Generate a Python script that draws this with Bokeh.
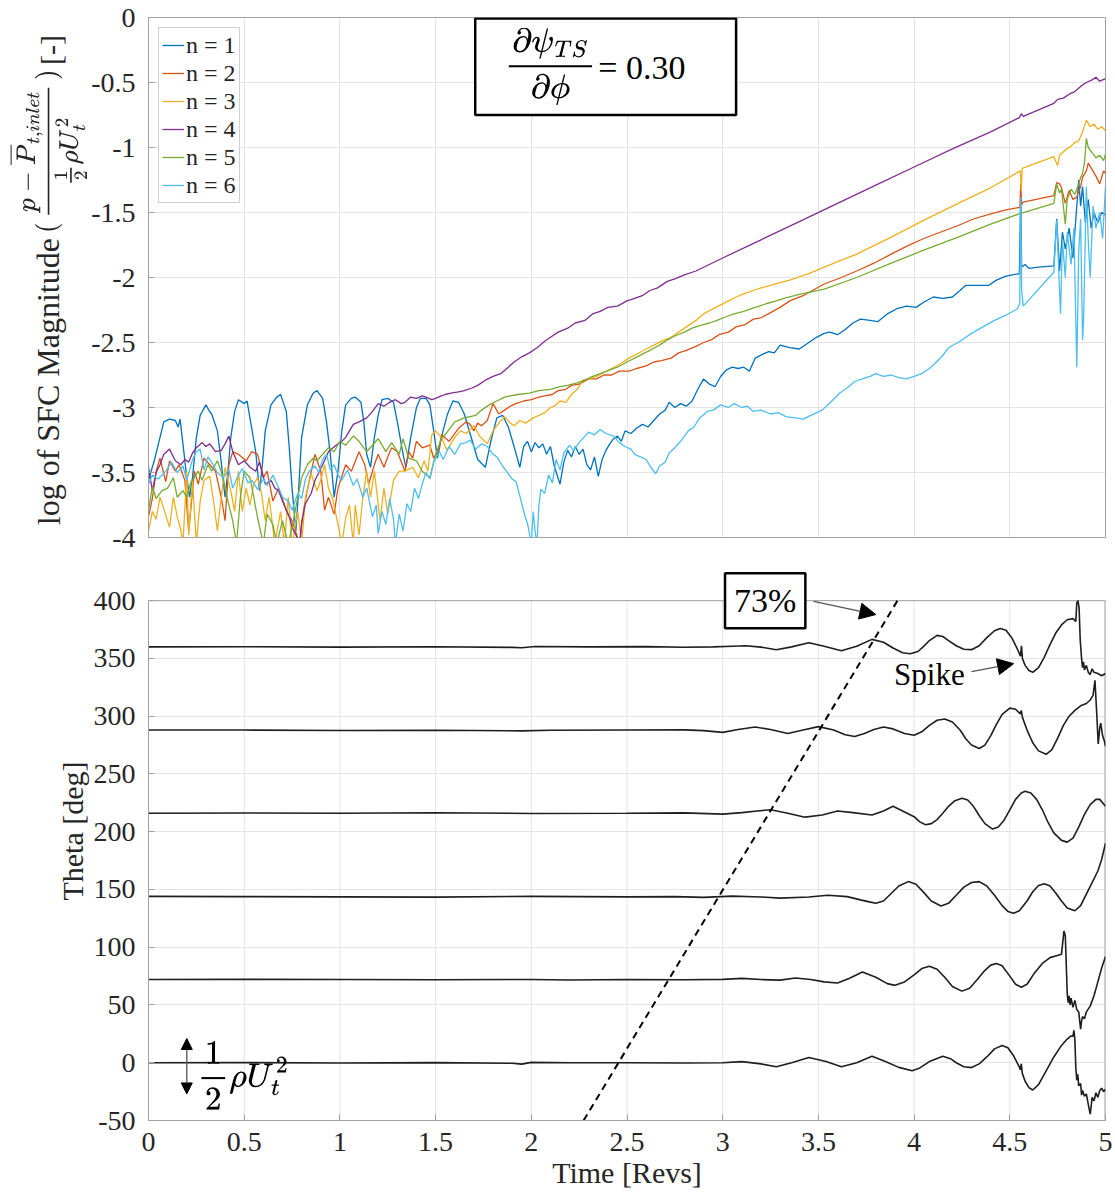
from bokeh.plotting import figure
from bokeh.models import Range1d, SingleIntervalTicker, Label, Arrow, NormalHead, BoxAnnotation
from bokeh.layouts import column, row
from bokeh.embed import file_html
from bokeh.resources import INLINE

SERIF = "Liberation Serif"
GRAY = "#a0a0a0"
GRID = "#e4e4e4"
TXT = "#262626"

# ---------------- top panel data: (time [revs], log SFC magnitude) ----------------
n1_pts = [(0.00,-3.56),(0.03,-3.41),(0.06,-3.23),(0.08,-3.11),(0.11,-3.09),(0.14,-3.10),(0.155,-3.15),(0.165,-3.09),
 (0.18,-3.28),(0.20,-3.54),(0.215,-3.69),(0.23,-3.54),(0.25,-3.23),(0.27,-3.06),(0.30,-2.98),(0.315,-3.02),(0.33,-3.05),
 (0.36,-3.18),(0.38,-3.42),(0.40,-3.69),(0.415,-3.49),(0.43,-3.23),(0.45,-3.03),(0.47,-2.94),(0.50,-2.97),(0.515,-2.95),
 (0.53,-3.08),(0.56,-3.34),(0.58,-3.64),(0.595,-3.44),(0.61,-3.18),(0.64,-2.98),(0.67,-2.92),(0.69,-2.90),(0.72,-3.03),
 (0.735,-3.30),(0.75,-3.62),(0.77,-3.95),(0.785,-3.62),(0.80,-3.23),(0.83,-2.98),(0.86,-2.89),(0.88,-2.87),(0.91,-2.93),
 (0.93,-3.11),(0.95,-3.36),(0.97,-3.69),(0.99,-3.49),(1.01,-3.18),(1.03,-2.98),(1.06,-2.93),(1.08,-2.92),(1.11,-2.96),
 (1.125,-3.11),(1.14,-3.36),(1.16,-3.46),(1.18,-3.23),(1.20,-3.06),(1.22,-2.94),(1.25,-2.93),(1.28,-2.96),(1.30,-3.11),
 (1.33,-3.36),(1.345,-3.46),(1.37,-3.23),(1.40,-3.00),(1.42,-2.93),(1.45,-2.93),(1.47,-2.98),(1.49,-3.18),(1.51,-3.39),
 (1.53,-3.23),(1.56,-3.06),(1.59,-2.95),(1.62,-2.96),(1.65,-3.05),(1.68,-3.20),(1.72,-3.40),(1.76,-3.46),(1.79,-3.25),
 (1.82,-3.08),(1.85,-3.06),(1.88,-3.15),(1.91,-3.30),(1.94,-3.46),(1.96,-3.30),(1.98,-3.26),(2.00,-3.34),(2.02,-3.27),
 (2.04,-3.31),(2.06,-3.28),(2.08,-3.36),(2.10,-3.30),(2.12,-3.45),(2.15,-3.59),(2.17,-3.42),(2.19,-3.33),(2.21,-3.38),
 (2.23,-3.30),(2.25,-3.36),(2.27,-3.32),(2.29,-3.44),(2.31,-3.48),(2.33,-3.38),(2.35,-3.53),(2.37,-3.40),(2.39,-3.33),
 (2.41,-3.28),(2.43,-3.24),(2.45,-3.22),(2.47,-3.26),(2.49,-3.18),(2.52,-3.20),(2.55,-3.16),(2.58,-3.13),(2.61,-3.15),
 (2.64,-3.10),(2.67,-3.05),(2.70,-3.02),(2.72,-2.96),(2.75,-3.00),(2.78,-2.97),(2.81,-2.99),(2.84,-2.95),(2.87,-2.86),
 (2.90,-2.78),(2.93,-2.82),(2.96,-2.84),(2.99,-2.76),(3.02,-2.71),(3.05,-2.69),(3.08,-2.70),(3.11,-2.69),(3.14,-2.72),
 (3.17,-2.62),(3.21,-2.59),(3.24,-2.57),(3.27,-2.58),(3.30,-2.52),(3.35,-2.54),(3.40,-2.55),(3.45,-2.50),(3.49,-2.46),
 (3.53,-2.43),(3.56,-2.42),(3.60,-2.44),(3.64,-2.40),(3.68,-2.35),(3.72,-2.32),(3.77,-2.33),(3.81,-2.34),(3.86,-2.28),
 (3.91,-2.24),(3.96,-2.22),(4.01,-2.23),(4.05,-2.19),(4.10,-2.15),(4.15,-2.16),(4.20,-2.15),(4.24,-2.10),(4.27,-2.06),
 (4.32,-2.06),(4.39,-2.06),(4.43,-2.02),(4.48,-1.99),(4.55,-1.97),(4.557,-1.35),(4.562,-1.92),(4.58,-1.90),(4.60,-1.93),
 (4.65,-1.92),(4.73,-1.91),(4.745,-1.55),(4.76,-1.95),(4.775,-1.65),(4.79,-1.78),(4.81,-1.62),(4.83,-1.85),(4.845,-1.55),
 (4.86,-1.25),(4.87,-1.45),(4.88,-1.30),(4.895,-1.58),(4.91,-1.40),(4.925,-1.62),(4.94,-1.50),(4.96,-1.58),(4.98,-1.50),(5.00,-1.52)]

n2_pts = [(0.00,-3.84),(0.02,-3.70),(0.04,-3.49),(0.06,-3.39),(0.09,-3.57),(0.11,-3.41),(0.14,-3.49),(0.16,-3.44),
 (0.19,-3.56),(0.21,-3.95),(0.24,-3.49),(0.26,-3.59),(0.29,-3.39),(0.32,-3.44),(0.35,-3.49),(0.38,-3.69),(0.40,-3.87),
 (0.42,-3.44),(0.44,-3.34),(0.47,-3.36),(0.51,-3.41),(0.54,-3.34),(0.57,-3.36),(0.60,-3.54),(0.62,-3.49),(0.65,-3.72),
 (0.68,-3.62),(0.72,-3.79),(0.75,-3.87),(0.79,-4.05),(0.81,-3.79),(0.84,-3.56),(0.87,-3.36),(0.90,-3.49),(0.92,-3.79),
 (0.94,-3.69),(0.97,-3.82),(0.99,-3.62),(1.03,-3.44),(1.06,-3.49),(1.10,-3.34),(1.13,-3.44),(1.15,-3.59),(1.18,-3.44),
 (1.20,-3.36),(1.23,-3.46),(1.25,-3.38),(1.27,-3.31),(1.30,-3.34),(1.34,-3.49),(1.36,-3.34),(1.38,-3.39),(1.40,-3.26),
 (1.43,-3.31),(1.47,-3.29),(1.49,-3.39),(1.52,-3.31),(1.53,-3.21),(1.57,-3.26),(1.62,-3.16),(1.66,-3.11),(1.68,-3.13),
 (1.70,-3.18),(1.72,-3.12),(1.74,-3.14),(1.77,-3.10),(1.80,-2.97),(1.83,-3.05),(1.86,-3.02),(1.89,-2.99),(1.92,-2.97),
 (1.96,-2.95),(2.00,-2.94),(2.04,-2.92),(2.07,-2.91),(2.11,-2.90),(2.14,-2.87),(2.18,-2.86),(2.21,-2.83),(2.25,-2.82),
 (2.30,-2.78),(2.34,-2.78),(2.38,-2.75),(2.42,-2.75),(2.46,-2.72),(2.51,-2.72),(2.55,-2.70),(2.60,-2.68),(2.64,-2.65),
 (2.68,-2.64),(2.73,-2.62),(2.77,-2.58),(2.81,-2.56),(2.86,-2.53),(2.90,-2.50),(2.94,-2.48),(2.98,-2.44),(3.03,-2.42),
 (3.07,-2.38),(3.12,-2.36),(3.16,-2.32),(3.20,-2.31),(3.25,-2.27),(3.30,-2.23),(3.35,-2.18),(3.42,-2.14),(3.53,-2.05),
 (3.62,-2.00),(3.70,-1.95),(3.79,-1.89),(3.88,-1.82),(3.96,-1.76),(4.05,-1.70),(4.14,-1.65),(4.23,-1.60),(4.31,-1.55),
 (4.40,-1.51),(4.48,-1.48),(4.553,-1.46),(4.557,-1.28),(4.562,-1.44),(4.57,-1.42),(4.73,-1.37),(4.745,-1.27),(4.76,-1.28),
 (4.77,-1.31),(4.79,-1.43),(4.81,-1.33),(4.83,-1.40),(4.85,-1.38),(4.87,-1.30),(4.88,-1.23),(4.90,-1.18),(4.91,-1.12),
 (4.93,-1.17),(4.95,-1.22),(4.97,-1.28),(4.99,-1.18),(5.00,-1.20)]

n3_pts = [(0.00,-3.95),(0.02,-3.80),(0.04,-3.86),(0.06,-3.69),(0.08,-3.78),(0.11,-3.92),(0.13,-3.69),(0.15,-3.84),
 (0.17,-3.95),(0.18,-4.05),(0.20,-3.49),(0.21,-3.98),(0.23,-3.56),(0.25,-4.05),(0.27,-3.72),(0.29,-3.56),(0.32,-3.53),
 (0.34,-3.72),(0.36,-3.95),(0.38,-3.69),(0.40,-3.46),(0.43,-3.64),(0.45,-3.80),(0.47,-3.49),(0.49,-3.80),(0.51,-3.62),
 (0.53,-3.75),(0.55,-3.59),(0.57,-3.54),(0.59,-3.66),(0.61,-3.87),(0.63,-3.69),(0.66,-4.05),(0.69,-3.80),(0.71,-4.05),
 (0.73,-3.69),(0.75,-4.05),(0.78,-3.80),(0.80,-4.05),(0.82,-3.69),(0.85,-3.51),(0.88,-3.64),(0.90,-3.56),(0.92,-3.44),
 (0.94,-3.62),(0.96,-3.69),(0.99,-3.90),(1.01,-4.05),(1.03,-3.85),(1.05,-3.75),(1.07,-4.05),(1.08,-3.75),(1.10,-3.98),
 (1.12,-3.69),(1.14,-3.49),(1.16,-3.69),(1.18,-3.49),(1.21,-3.87),(1.23,-3.62),(1.25,-3.82),(1.28,-3.56),(1.31,-3.49),
 (1.34,-3.49),(1.38,-3.46),(1.41,-3.54),(1.44,-3.41),(1.46,-3.49),(1.48,-3.21),(1.50,-3.18),(1.53,-3.23),(1.56,-3.33),
 (1.60,-3.23),(1.63,-3.18),(1.66,-3.20),(1.70,-3.14),(1.73,-3.22),(1.77,-3.28),(1.80,-3.18),(1.83,-3.12),(1.86,-3.07),
 (1.89,-3.12),(1.91,-3.14),(1.94,-3.10),(1.97,-3.12),(2.01,-3.08),(2.04,-3.06),(2.07,-3.04),(2.10,-3.00),(2.12,-2.99),
 (2.15,-2.95),(2.18,-2.96),(2.21,-2.90),(2.24,-2.86),(2.27,-2.79),(2.30,-2.78),(2.34,-2.76),(2.38,-2.73),(2.42,-2.70),
 (2.47,-2.66),(2.51,-2.62),(2.55,-2.59),(2.60,-2.55),(2.64,-2.52),(2.68,-2.49),(2.73,-2.46),(2.77,-2.42),(2.81,-2.38),
 (2.86,-2.33),(2.90,-2.28),(2.95,-2.24),(2.99,-2.21),(3.03,-2.18),(3.07,-2.15),(3.12,-2.12),(3.16,-2.10),(3.20,-2.08),
 (3.25,-2.06),(3.30,-2.04),(3.35,-2.02),(3.45,-1.97),(3.53,-1.92),(3.70,-1.82),(3.88,-1.69),(4.05,-1.56),(4.23,-1.43),
 (4.40,-1.31),(4.555,-1.18),(4.56,-1.33),(4.565,-1.16),(4.73,-1.07),(4.75,-1.14),(4.76,-1.06),(4.79,-1.02),(4.82,-0.99),
 (4.84,-0.96),(4.86,-0.95),(4.88,-0.88),(4.90,-0.79),(4.92,-0.84),(4.94,-0.82),(4.96,-0.86),(4.98,-0.84),(5.00,-0.87)]

n4_pts = [(0.00,-3.46),(0.02,-3.64),(0.04,-3.50),(0.06,-3.44),(0.08,-3.36),(0.11,-3.32),(0.14,-3.41),(0.17,-3.44),
 (0.19,-3.40),(0.21,-3.42),(0.23,-3.35),(0.25,-3.31),(0.28,-3.27),(0.30,-3.30),(0.32,-3.28),(0.35,-3.34),(0.38,-3.33),
 (0.40,-3.28),(0.42,-3.22),(0.44,-3.34),(0.47,-3.44),(0.50,-3.41),(0.53,-3.46),(0.56,-3.49),(0.58,-3.42),(0.61,-3.59),
 (0.64,-3.56),(0.66,-3.62),(0.68,-3.64),(0.70,-3.72),(0.72,-3.79),(0.74,-3.86),(0.75,-3.92),(0.77,-3.98),(0.79,-4.05),
 (0.80,-3.88),(0.82,-3.74),(0.85,-3.66),(0.87,-3.56),(0.89,-3.50),(0.91,-3.44),(0.94,-3.34),(0.98,-3.29),(1.01,-3.26),
 (1.03,-3.23),(1.05,-3.18),(1.07,-3.13),(1.10,-3.11),(1.14,-3.08),(1.17,-3.03),(1.20,-2.97),(1.23,-2.99),(1.26,-2.96),
 (1.29,-2.94),(1.32,-2.97),(1.34,-2.96),(1.37,-2.92),(1.40,-2.93),(1.43,-2.91),(1.45,-2.92),(1.48,-2.94),(1.50,-2.93),
 (1.53,-2.91),(1.55,-2.90),(1.58,-2.89),(1.62,-2.88),(1.65,-2.87),(1.69,-2.85),(1.72,-2.83),(1.76,-2.79),(1.80,-2.76),
 (1.84,-2.74),(1.88,-2.69),(1.91,-2.65),(1.95,-2.61),(1.99,-2.58),(2.03,-2.54),(2.07,-2.49),(2.10,-2.46),(2.14,-2.42),
 (2.19,-2.39),(2.23,-2.35),(2.28,-2.33),(2.32,-2.28),(2.36,-2.26),(2.40,-2.23),(2.45,-2.22),(2.50,-2.18),(2.54,-2.16),
 (2.58,-2.14),(2.62,-2.10),(2.66,-2.08),(2.71,-2.03),(2.75,-2.01),(2.80,-1.98),(2.86,-1.95),(3.00,-1.85),(3.20,-1.71),
 (3.40,-1.57),(3.60,-1.43),(3.80,-1.29),(4.00,-1.15),(4.20,-1.01),(4.40,-0.88),(4.55,-0.77),(4.56,-0.74),(4.57,-0.76),
 (4.73,-0.66),(4.75,-0.63),(4.78,-0.62),(4.81,-0.59),(4.84,-0.57),(4.87,-0.53),(4.90,-0.50),(4.93,-0.48),(4.95,-0.46),
 (4.97,-0.49),(5.00,-0.47)]

n5_pts = [(0.00,-3.79),(0.02,-3.61),(0.04,-3.70),(0.07,-3.64),(0.10,-3.62),(0.13,-3.54),(0.15,-3.69),(0.18,-3.64),
 (0.20,-3.69),(0.22,-3.58),(0.26,-3.49),(0.28,-3.56),(0.31,-3.44),(0.33,-3.49),(0.36,-3.41),(0.39,-3.54),(0.41,-3.69),
 (0.44,-3.87),(0.46,-4.05),(0.48,-3.69),(0.50,-3.49),(0.53,-3.54),(0.55,-3.69),(0.57,-3.85),(0.60,-4.05),(0.62,-3.82),
 (0.65,-3.90),(0.67,-4.05),(0.70,-3.87),(0.73,-4.05),(0.75,-3.92),(0.78,-3.69),(0.80,-3.54),(0.83,-3.44),(0.86,-3.39),
 (0.88,-3.41),(0.91,-3.36),(0.94,-3.31),(0.97,-3.34),(1.00,-3.26),(1.03,-3.29),(1.07,-3.22),(1.10,-3.26),(1.14,-3.34),
 (1.17,-3.29),(1.20,-3.24),(1.24,-3.34),(1.27,-3.27),(1.31,-3.36),(1.33,-3.24),(1.36,-3.39),(1.40,-3.41),(1.43,-3.49),
 (1.47,-3.54),(1.50,-3.36),(1.53,-3.24),(1.56,-3.19),(1.60,-3.11),(1.65,-3.08),(1.71,-3.06),(1.74,-3.02),(1.78,-2.98),
 (1.82,-2.95),(1.86,-2.92),(1.89,-2.91),(1.93,-2.90),(1.99,-2.89),(2.04,-2.87),(2.10,-2.86),(2.15,-2.84),(2.19,-2.83),
 (2.24,-2.81),(2.28,-2.79),(2.32,-2.76),(2.36,-2.74),(2.41,-2.71),(2.45,-2.69),(2.50,-2.65),(2.54,-2.62),(2.58,-2.59),
 (2.62,-2.56),(2.67,-2.52),(2.71,-2.48),(2.75,-2.45),(2.80,-2.42),(2.84,-2.39),(2.88,-2.37),(2.93,-2.35),(2.97,-2.33),
 (3.02,-2.30),(3.06,-2.28),(3.11,-2.26),(3.15,-2.24),(3.19,-2.22),(3.23,-2.20),(3.28,-2.18),(3.32,-2.16),(3.40,-2.13),
 (3.53,-2.09),(3.70,-2.00),(3.88,-1.89),(4.05,-1.79),(4.23,-1.69),(4.40,-1.59),(4.55,-1.51),(4.73,-1.43),(4.745,-1.28),
 (4.76,-1.35),(4.77,-1.32),(4.79,-1.59),(4.80,-1.40),(4.82,-1.32),(4.84,-1.36),(4.86,-1.28),(4.87,-1.23),(4.88,-1.20),
 (4.89,-1.12),(4.90,-0.93),(4.91,-1.00),(4.93,-1.04),(4.95,-1.08),(4.97,-1.06),(4.99,-1.10),(5.00,-1.05)]

n6_pts = [(0.00,-3.59),(0.02,-3.52),(0.05,-3.55),(0.09,-3.49),(0.12,-3.42),(0.15,-3.50),(0.18,-3.45),(0.20,-3.56),
 (0.23,-3.40),(0.25,-3.34),(0.27,-3.32),(0.29,-3.48),(0.31,-3.38),(0.33,-3.42),(0.36,-3.50),(0.39,-3.54),(0.42,-3.48),
 (0.44,-3.62),(0.47,-3.52),(0.49,-3.47),(0.52,-3.58),(0.54,-3.56),(0.57,-3.63),(0.60,-3.55),(0.62,-3.60),(0.65,-3.52),
 (0.68,-3.62),(0.70,-3.69),(0.73,-3.72),(0.75,-3.79),(0.78,-3.66),(0.80,-3.70),(0.82,-3.55),(0.84,-3.49),(0.87,-3.45),
 (0.89,-3.50),(0.91,-3.40),(0.93,-3.36),(0.95,-3.48),(0.97,-3.44),(0.99,-3.52),(1.01,-3.56),(1.04,-3.48),(1.07,-3.60),
 (1.09,-3.55),(1.12,-3.69),(1.14,-3.62),(1.17,-3.84),(1.19,-3.75),(1.20,-3.97),(1.22,-3.80),(1.24,-3.90),(1.26,-3.70),
 (1.28,-3.86),(1.29,-4.05),(1.31,-3.82),(1.33,-3.95),(1.35,-3.74),(1.37,-3.80),(1.39,-3.62),(1.41,-3.70),(1.43,-3.59),
 (1.45,-3.50),(1.47,-3.55),(1.49,-3.42),(1.52,-3.34),(1.54,-3.40),(1.57,-3.30),(1.60,-3.36),(1.63,-3.28),(1.66,-3.27),
 (1.68,-3.25),(1.71,-3.32),(1.74,-3.28),(1.77,-3.30),(1.80,-3.36),(1.82,-3.38),(1.85,-3.45),(1.87,-3.49),(1.90,-3.55),
 (1.92,-3.57),(1.94,-3.68),(1.95,-3.74),(1.97,-3.85),(1.98,-3.89),(2.00,-4.05),(2.01,-3.80),(2.02,-3.95),(2.03,-4.05),
 (2.04,-3.75),(2.05,-3.63),(2.07,-3.66),(2.09,-3.52),(2.11,-3.58),(2.13,-3.40),(2.15,-3.48),(2.17,-3.35),(2.20,-3.29),
 (2.22,-3.33),(2.25,-3.27),(2.28,-3.22),(2.30,-3.19),(2.33,-3.21),(2.36,-3.17),(2.39,-3.20),(2.43,-3.22),(2.46,-3.27),
 (2.49,-3.30),(2.52,-3.32),(2.54,-3.36),(2.57,-3.38),(2.60,-3.40),(2.62,-3.45),(2.65,-3.51),(2.67,-3.45),(2.70,-3.42),
 (2.72,-3.35),(2.75,-3.31),(2.78,-3.26),(2.82,-3.18),(2.85,-3.15),(2.88,-3.08),(2.92,-3.03),(2.95,-3.02),(2.99,-2.98),
 (3.03,-3.00),(3.06,-2.97),(3.10,-3.00),(3.13,-2.99),(3.16,-3.03),(3.20,-3.02),(3.25,-3.05),(3.29,-3.04),(3.33,-3.07),
 (3.38,-3.08),(3.42,-3.09),(3.46,-3.06),(3.52,-3.02),(3.57,-2.95),(3.61,-2.89),(3.65,-2.85),(3.69,-2.80),(3.73,-2.78),
 (3.77,-2.76),(3.80,-2.74),(3.84,-2.76),(3.88,-2.75),(3.92,-2.77),(3.96,-2.78),(4.00,-2.76),(4.04,-2.74),(4.08,-2.70),
 (4.11,-2.66),(4.15,-2.60),(4.18,-2.54),(4.24,-2.49),(4.30,-2.43),(4.36,-2.38),(4.42,-2.33),(4.48,-2.29),(4.54,-2.24),
 (4.552,-2.20),(4.557,-1.38),(4.562,-2.10),(4.57,-2.22),(4.73,-1.96),(4.745,-1.56),(4.765,-2.28),(4.775,-1.72),(4.79,-2.00),
 (4.80,-1.65),(4.82,-1.90),(4.835,-1.62),(4.85,-2.69),(4.86,-1.80),(4.87,-1.55),(4.88,-2.48),(4.885,-2.35),(4.90,-1.30),
 (4.91,-1.72),(4.92,-2.00),(4.935,-1.45),(4.95,-1.62),(4.97,-1.50),(4.985,-1.70),(5.00,-1.30)]

series_names = ["n = 1", "n = 2", "n = 3", "n = 4", "n = 5", "n = 6"]
series_colors = ["#0072BD", "#D95319", "#EDB120", "#7E2F8E", "#77AC30", "#4DBEEE"]
series_pts = [n1_pts, n2_pts, n3_pts, n4_pts, n5_pts, n6_pts]

# ---------------- bottom panel data: (time [revs], theta [deg]) ----------------
th360 = [(0,360),(0.5,360.1),(1.0,359.8),(1.5,360.1),(1.9,359.6),(1.95,359.2),(2.02,360.3),(2.3,360),(2.6,360.2),
 (2.8,359.7),(2.95,360),(3.05,360.6),(3.12,361),(3.20,359.8),(3.28,357.6),(3.36,360),(3.45,363.6),(3.53,360.5),
 (3.62,356.6),(3.70,360.5),(3.78,366.5),(3.84,364),(3.89,359),(3.94,355),(3.98,354),(4.02,356),(4.05,360.5),(4.08,365.5),
 (4.12,370),(4.15,369),(4.18,365.5),(4.22,361),(4.26,358),(4.30,357.6),(4.34,361),(4.38,368),(4.42,374),(4.45,376),
 (4.48,374.5),(4.51,368),(4.54,358),(4.556,352),(4.561,361),(4.566,350),(4.58,344),(4.60,339.5),(4.62,338),(4.65,342),
 (4.68,351),(4.71,362),(4.74,372),(4.77,379),(4.80,383.5),(4.83,384.5),(4.845,382),(4.85,398),(4.856,400),(4.862,394),
 (4.868,366),(4.875,350),(4.88,342),(4.885,347),(4.89,340),(4.90,344),(4.91,338),(4.92,336),(4.93,341),(4.94,338),
 (4.96,337),(4.98,335),(5.0,337)]
th288 = [(0,288),(0.5,288),(1.0,287.6),(1.5,287.8),(1.95,287.3),(2.1,287.8),(2.5,288),(2.8,288.2),(2.9,287.5),(3.0,286),
 (3.08,288.5),(3.17,290.6),(3.25,288.5),(3.34,285),(3.42,288),(3.50,291),(3.58,288),(3.64,284),(3.69,282.5),(3.74,285),
 (3.79,288.5),(3.84,290.6),(3.89,289),(3.95,285),(4.00,283.5),(4.04,286.5),(4.08,292),(4.12,296.5),(4.16,297.6),(4.20,295),
 (4.24,288),(4.27,280.5),(4.30,275),(4.34,272),(4.37,275),(4.40,283),(4.43,293),(4.46,301.5),(4.50,307),(4.53,306),
 (4.555,302),(4.56,305),(4.566,299),(4.59,288),(4.62,277),(4.65,270),(4.69,267),(4.72,271),(4.75,281),(4.78,292),
 (4.81,300),(4.84,305),(4.87,309),(4.90,311),(4.92,314),(4.935,318),(4.945,331),(4.955,300),(4.962,276),(4.97,290),
 (4.975,294),(4.985,283),(4.995,278),(5.0,274)]
th216 = [(0,216),(0.5,216.2),(1.0,216),(1.5,216.4),(2.0,215.8),(2.5,216),(2.8,216.3),(3.0,215.2),(3.1,216.5),(3.18,218),
 (3.25,219),(3.34,216),(3.43,212.6),(3.52,214.5),(3.60,218),(3.68,216.5),(3.78,214.5),(3.84,218),(3.89,222),(3.94,218),
 (4.00,213),(4.03,208.5),(4.06,206),(4.09,207),(4.12,210.5),(4.15,216),(4.18,222),(4.21,226.5),(4.25,229),(4.28,227.5),
 (4.31,222),(4.34,214),(4.37,207),(4.41,202.3),(4.44,204),(4.47,210),(4.50,219),(4.53,228),(4.56,233.5),(4.58,235),
 (4.61,233.5),(4.64,228),(4.67,219),(4.70,208),(4.73,199),(4.77,192.5),(4.80,191),(4.83,194.5),(4.86,204),(4.89,215),
 (4.92,223.5),(4.95,228),(4.97,228),(5.0,222)]
th144 = [(0,144),(0.5,143.8),(1.0,143.6),(1.5,143.4),(2.0,144),(2.5,143.6),(2.75,143.8),(2.9,143.2),(3.05,144.2),
 (3.2,143.5),(3.3,142.5),(3.45,143.5),(3.55,145),(3.65,143.8),(3.72,141),(3.76,139.5),(3.80,138),(3.84,140),(3.88,146.5),
 (3.92,153),(3.97,156.8),(4.01,154.5),(4.05,147.5),(4.09,140),(4.14,135.7),(4.18,138),(4.22,145),(4.26,152),(4.30,156),
 (4.34,156.8),(4.38,153),(4.42,145),(4.46,136),(4.49,131),(4.52,129.5),(4.55,131.5),(4.59,140),(4.62,148),(4.65,153.5),
 (4.68,155),(4.71,153),(4.74,147),(4.77,140),(4.80,134),(4.84,131.6),(4.87,136),(4.90,146),(4.93,156),(4.96,166),
 (4.98,176),(5.0,190)]
th72 = [(0,72),(0.5,72.2),(1.0,72),(1.5,71.8),(2.0,72.1),(2.2,71.6),(2.5,72),(2.8,71.8),(3.0,72.2),(3.1,73),(3.2,72),
 (3.3,71.5),(3.38,73.3),(3.46,72),(3.53,70),(3.60,69),(3.66,73),(3.73,78.5),(3.80,74),(3.86,68.5),(3.90,67),(3.95,70),
 (4.00,76),(4.04,81.5),(4.08,83.5),(4.12,81),(4.16,74),(4.20,66),(4.25,62),(4.29,64.5),(4.33,72),(4.37,80),(4.40,84.5),
 (4.43,86),(4.46,84),(4.50,75),(4.53,68),(4.56,65.4),(4.59,68),(4.63,78),(4.67,86),(4.71,91),(4.74,92.5),(4.77,94),
 (4.783,114),(4.79,110),(4.795,85),(4.80,60),(4.805,52),(4.81,58),(4.815,50),(4.82,56),(4.83,48),(4.84,54),(4.85,46),
 (4.86,44),(4.87,29),(4.875,36),(4.88,40),(4.89,38),(4.90,44),(4.92,49),(4.94,58),(4.96,70),(4.98,82),(5.0,92)]
th0 = [(0,0),(0.5,0.1),(1.0,-0.2),(1.5,0.1),(1.9,-0.5),(1.95,-1.2),(2.0,0.3),(2.2,0),(2.5,0),(2.8,-0.2),(3.0,0),(3.1,1),
 (3.2,-1),(3.28,-3.5),(3.36,0),(3.45,4.6),(3.54,1),(3.62,-3.5),(3.70,0),(3.78,5.6),(3.85,1),(3.92,-4),(3.99,-7),
 (4.03,-4.5),(4.08,1),(4.15,5.6),(4.19,3.5),(4.22,0),(4.26,-3.5),(4.30,-4.2),(4.34,-1),(4.38,5),(4.42,12),(4.46,15),
 (4.49,13),(4.52,6),(4.545,-2),(4.555,-6),(4.56,-1),(4.565,-9),(4.58,-16),(4.60,-21.5),(4.62,-23.6),(4.65,-19),(4.69,-7),
 (4.73,5),(4.77,15),(4.80,20.5),(4.82,23.2),(4.83,23),(4.835,28),(4.84,20),(4.845,-5),(4.85,-15),(4.855,-10),(4.86,-20),
 (4.87,-18),(4.875,-28),(4.88,-24),(4.89,-29),(4.90,-27),(4.91,-36),(4.92,-44.5),(4.925,-38),(4.93,-30),(4.94,-33),
 (4.95,-26),(4.96,-30),(4.97,-24),(4.98,-22),(4.99,-25),(5.0,-23)]
theta_lines = [th0, th72, th144, th216, th288, th360]

dash_t = [2.273, 3.913]
dash_theta = [-50, 400]

x_ticks = [0, 0.5, 1, 1.5, 2, 2.5, 3, 3.5, 4, 4.5, 5]
top_y_ticks = [0, -0.5, -1, -1.5, -2, -2.5, -3, -3.5, -4]
bot_y_ticks = [-50, 0, 50, 100, 150, 200, 250, 300, 350, 400]


def fmt(v):
    return ("%g" % v)


def style_axis(ax, interval, ticks):
    ax.ticker = SingleIntervalTicker(interval=interval)
    ax.major_label_overrides = {t: fmt(t) for t in ticks}
    ax.major_label_text_font = SERIF
    ax.major_label_text_font_size = "28px"
    ax.major_label_text_color = TXT
    ax.axis_line_color = GRAY
    ax.major_tick_line_color = GRAY
    ax.major_tick_in = 6
    ax.major_tick_out = 0
    ax.minor_tick_line_color = None
    ax.axis_label_text_font = SERIF
    ax.axis_label_text_font_size = "30px"
    ax.axis_label_text_font_style = "normal"
    ax.axis_label_text_color = TXT


def strip(width, height, y0, y1):
    s = figure(width=width, height=height, x_range=Range1d(0, width), y_range=Range1d(y0, y1),
               output_backend="svg", toolbar_location=None,
               min_border_left=0, min_border_right=0, min_border_top=0, min_border_bottom=0)
    s.axis.visible = False
    s.grid.visible = False
    s.outline_line_color = None
    return s


TOP_W, BOT_W = 88, 90  # widths of the strips that carry the y-axis titles
TOP_H, BOT_H = 554, 645
BOT_SCALE = (BOT_H - 15 - 79) / 477.0

# ---------------- strip for the top y-axis title ----------------
pl = strip(TOP_W, TOP_H, -4 - 17 / 130, 17 / 130)
pl.add_layout(Label(x=48, y=-4.03, text="log of SFC Magnitude", angle=1.5708,
                    text_align="left", text_baseline="middle", text_font=SERIF,
                    text_font_size="32px", text_color=TXT))
pl.add_layout(Label(x=47, y=-0.965,
                    text=r"$$(\,\frac{p-\overline{P}_{t,inlet}}{\frac{1}{2}\rho U_t^2}\,)$$",
                    angle=1.5708, text_align="center", text_baseline="middle",
                    text_font_size="22px", text_color=TXT))
pl.add_layout(Label(x=50, y=-0.135, text="[-]", angle=1.5708,
                    text_align="center", text_baseline="middle", text_font=SERIF,
                    text_font_size="30px", text_color=TXT))

# ---------------- top figure ----------------
p1 = figure(width=1115 - TOP_W, height=TOP_H, x_range=Range1d(0, 5), y_range=Range1d(-4, 0),
            output_backend="svg", toolbar_location=None,
            min_border_left=148 - TOP_W, min_border_right=10, min_border_top=17, min_border_bottom=17)
p1.xaxis.visible = False
style_axis(p1.yaxis[0], 0.5, top_y_ticks)
p1.yaxis.major_label_standoff = 9
p1.xgrid.ticker = SingleIntervalTicker(interval=0.5)
p1.ygrid.ticker = SingleIntervalTicker(interval=0.5)
for g in (p1.xgrid, p1.ygrid):
    g.grid_line_color = GRID
p1.outline_line_color = GRAY

for name, col, pts in zip(series_names, series_colors, series_pts):
    ts = [a for a, b in pts]
    ys = [b for a, b in pts]
    p1.line(ts, ys, line_color=col, line_width=1.3, legend_label=name)

lg = p1.legend[0]
lg.location = "top_left"
lg.margin = 10
lg.padding = 3
lg.spacing = 0
lg.glyph_width = 22
lg.glyph_height = 28
lg.label_height = 28
lg.label_standoff = 2
lg.label_text_font = SERIF
lg.label_text_font_size = "24px"
lg.label_text_color = TXT
lg.border_line_color = GRAY
lg.border_line_width = 1
lg.background_fill_alpha = 1.0

# equation box
p1.add_layout(BoxAnnotation(left=1.707, right=3.07, top=-0.008, bottom=-0.75,
                            fill_color="white", fill_alpha=1.0, line_color="black",
                            line_alpha=1.0, line_width=2.5))
p1.add_layout(Label(x=2.10, y=-0.375, text=r"$$\frac{\partial \psi_{TS}}{\partial \phi}$$",
                    text_align="center", text_baseline="middle", text_font_size="28px", text_color="black"))
p1.add_layout(Label(x=2.35, y=-0.385, text="= 0.30", text_align="left", text_baseline="middle",
                    text_font=SERIF, text_font_size="34px", text_color="black"))

# ---------------- strip for the bottom y-axis title ----------------
pl2 = strip(BOT_W, BOT_H, -50 - 79 / BOT_SCALE, 427 + 15 / BOT_SCALE)
pl2.add_layout(Label(x=72, y=175, text="Theta [deg]", angle=1.5708,
                     text_align="center", text_baseline="middle", text_font=SERIF,
                     text_font_size="30px", text_color=TXT))

# ---------------- bottom figure ----------------
p2 = figure(width=1115 - BOT_W, height=BOT_H, x_range=Range1d(0, 5), y_range=Range1d(-50, 427),
            output_backend="svg", toolbar_location=None,
            min_border_left=148 - BOT_W, min_border_right=10, min_border_top=15, min_border_bottom=79)
style_axis(p2.xaxis[0], 0.5, x_ticks)
style_axis(p2.yaxis[0], 50, bot_y_ticks)
p2.yaxis.bounds = (-50, 400)
p2.xaxis.major_label_standoff = 8
p2.xaxis.axis_label_standoff = 2
p2.yaxis.major_label_standoff = 9
p2.xaxis.axis_label = "Time [Revs]"
p2.xgrid.visible = False
p2.ygrid.grid_line_color = GRID
p2.outline_line_color = None

# vertical grid lines and frame edges limited to the -50..400 data range
p2.segment(x0=x_ticks, y0=[-50] * len(x_ticks), x1=x_ticks, y1=[400] * len(x_ticks),
           line_color=GRID, line_width=1)
p2.line([0, 5], [400, 400], line_color=GRAY, line_width=1)
p2.line([5, 5], [-50, 400], line_color=GRAY, line_width=2)

for pts in theta_lines:
    ts = [a for a, b in pts]
    ys = [b for a, b in pts]
    p2.line(ts, ys, line_color="#1e1e1e", line_width=1.6)

p2.line(dash_t, dash_theta, line_color="black", line_width=2, line_dash="7 5")

p2.add_layout(Label(x=3.222, y=400, text="73%", text_align="center", text_baseline="middle",
                    text_font=SERIF, text_font_size="34px", text_color="black",
                    border_line_color="black", border_line_width=2.5,
                    background_fill_color="white", background_fill_alpha=1.0, padding=9))
p2.add_layout(Arrow(end=NormalHead(size=16, fill_color="black", line_color="black"),
                    x_start=3.475, y_start=399.5, x_end=3.80, y_end=388,
                    line_color="#555555", line_width=1.3))
p2.add_layout(Label(x=4.08, y=336, text="Spike", text_align="center", text_baseline="middle",
                    text_font=SERIF, text_font_size="31px", text_color="black"))
p2.add_layout(Arrow(end=NormalHead(size=16, fill_color="black", line_color="black"),
                    x_start=4.30, y_start=338.5, x_end=4.52, y_end=345.5,
                    line_color="#555555", line_width=1.3))
p2.add_layout(Arrow(start=NormalHead(size=11, fill_color="black", line_color="black"),
                    end=NormalHead(size=11, fill_color="black", line_color="black"),
                    x_start=0.20, y_start=-27, x_end=0.20, y_end=21,
                    line_color="#555555", line_width=1.3))
p2.add_layout(Label(x=0.255, y=-11, text=r"$$\frac{1}{2}\rho U_t^2$$", text_align="left",
                    text_baseline="middle", text_font_size="27px", text_color="black"))

layout = column(row(pl, p1), row(pl2, p2))
open("out.html", "w").write(file_html(layout, INLINE))
